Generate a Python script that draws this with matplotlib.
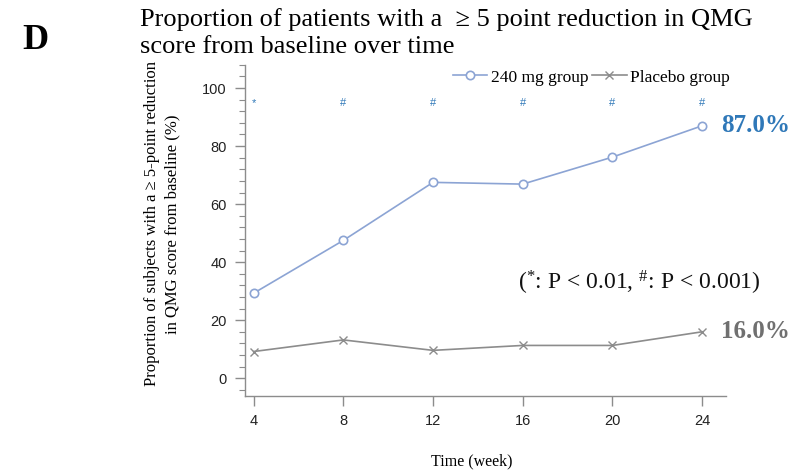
import matplotlib
matplotlib.use("Agg")
import matplotlib.pyplot as plt
from matplotlib.ticker import MultipleLocator

weeks = [4, 8, 12, 16, 20, 24]
drug_240 = [29.3, 47.5, 67.5, 66.9, 76.2, 87.0]
placebo = [9.2, 13.2, 9.6, 11.3, 11.3, 16.0]
signif = ["*", "#", "#", "#", "#", "#"]
xtick_labels = ["4", "8", "12", "16", "20", "24"]

serif = ["Liberation Serif", "DejaVu Serif"]
sans = ["Liberation Sans", "DejaVu Sans"]
plt.rcParams["mathtext.fontset"] = "custom"
plt.rcParams["mathtext.rm"] = "Liberation Serif"
plt.rcParams["mathtext.it"] = "Liberation Serif"

blue = "#8ca4d4"
blue_txt = "#2f78b8"
grey = "#8c8c8c"

fig = plt.figure(figsize=(7.97, 4.70), dpi=100)
ax = fig.add_axes([0.307, 0.157, 0.604, 0.705])

ax.plot(weeks, drug_240, color=blue, lw=1.2, marker="o", ms=6,
        mfc="white", mec=blue, mew=1.2, label="240 mg group")
ax.plot(weeks, placebo, color=grey, lw=1.2, marker="x", ms=6,
        mec=grey, mew=1.0, label="Placebo group")

for w, s in zip(weeks, signif):
    ax.text(w, 95, s, color=blue_txt, fontsize=8, ha="center", va="center",
            family=sans)

ax.text(weeks[-1] + 0.85, drug_240[-1], "87.0%", color=blue_txt, fontsize=18,
        fontweight="bold", family=serif, va="center", ha="left")
ax.text(weeks[-1] + 0.85, placebo[-1], "16.0%", color="#707070", fontsize=18,
        fontweight="bold", family=serif, va="center", ha="left")
ax.text(21.2, 33.0, r"(${}^{*}$: P < 0.01, ${}^{\#}$: P < 0.001)", fontsize=17,
        family=serif, ha="center", va="center", color="#111111")

ax.set_xlim(3.6, 25.07)
ax.set_ylim(-6.2, 108)
ax.set_xticks(weeks)
ax.set_xticklabels(xtick_labels, family=sans, fontsize=10.5)
ax.set_yticks([0, 20, 40, 60, 80, 100])
ax.yaxis.set_minor_locator(MultipleLocator(4))
for lab in ax.get_yticklabels():
    lab.set_family(sans)
    lab.set_fontsize(10.5)

for side in ["top", "right"]:
    ax.spines[side].set_visible(False)
for side in ["left", "bottom"]:
    ax.spines[side].set_color(grey)
    ax.spines[side].set_linewidth(1.0)
ax.tick_params(axis="both", which="major", color=grey, length=7, width=1.0,
               pad=6, labelcolor="#222222")
ax.tick_params(axis="y", which="minor", color=grey, length=4, width=0.8)

ax.set_xlabel("Time (week)", family=serif, fontsize=11.5)
ax.xaxis.set_label_coords(0.471, -0.172)
ax.set_ylabel("Proportion of subjects with a \u2265 5-point reduction\n"
              "in QMG score from baseline (%)", family=serif, fontsize=12,
              linespacing=1.4)
ax.yaxis.set_label_coords(-0.133, 0.52)

leg = ax.legend(loc="center", bbox_to_anchor=(0.72, 0.962), ncol=2,
                frameon=False, prop={"family": serif, "size": 12.5},
                handlelength=2.0, handletextpad=0.2, columnspacing=0.2,
                borderaxespad=0)

fig.text(0.028, 0.913, "D", family=serif, fontsize=26, fontweight="bold",
         ha="left", va="center")
fig.text(0.176, 0.93, "Proportion of patients with a  \u2265 5 point reduction in QMG\n"
         "score from baseline over time", family=serif, fontsize=19,
         ha="left", va="center", linespacing=1.25)

fig.savefig("out.png", dpi=100)
